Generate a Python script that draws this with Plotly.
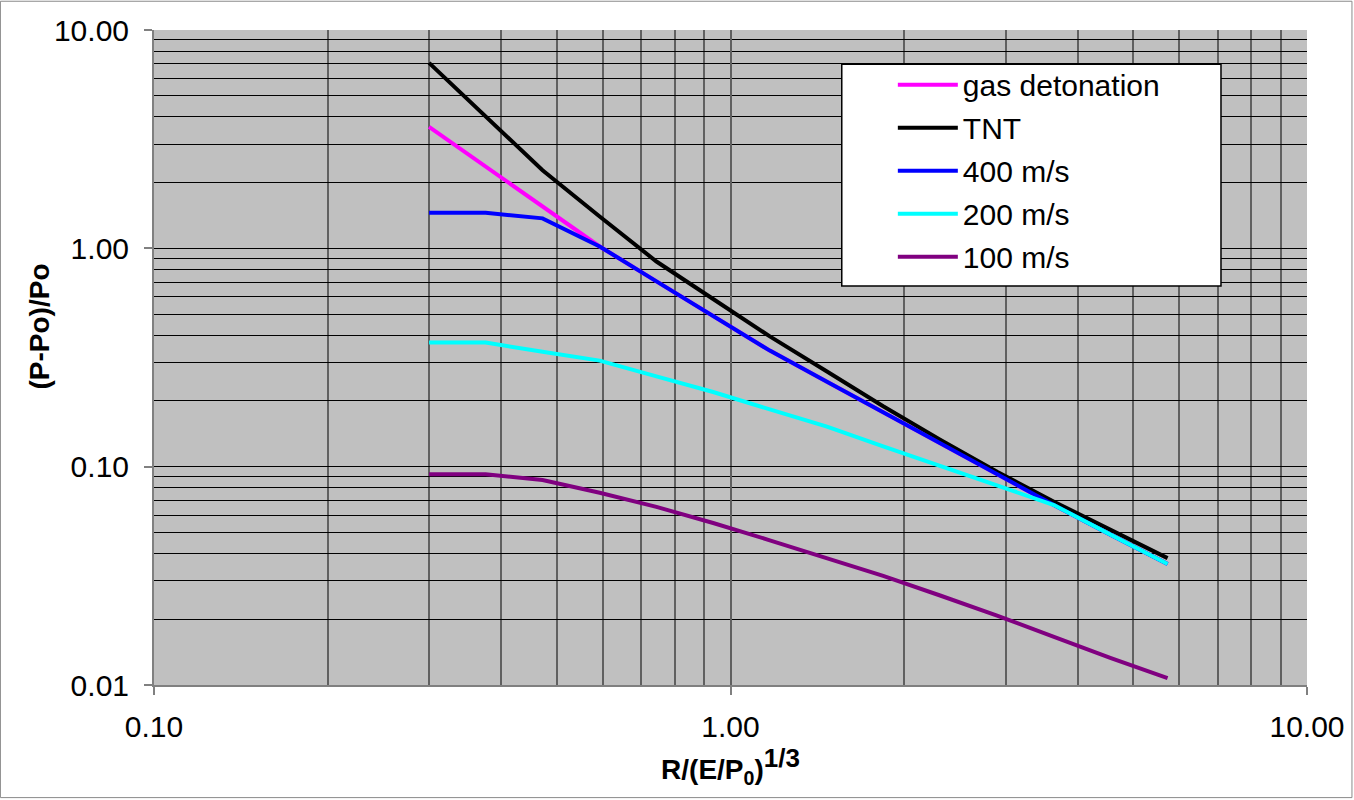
import plotly.graph_objects as go

# Scaled distance R/(E/P0)^(1/3)
x_vals = [0.30, 0.376, 0.472, 0.593, 0.744, 0.933, 1.17, 1.47, 1.84, 2.31, 2.90, 3.64, 4.57, 5.73]

# Overpressure (P-Po)/Po
gas_detonation = [3.60, 2.37, 1.55, 1.02, 0.706, 0.489, 0.340, 0.245, 0.177, 0.128, 0.0923, 0.0667, 0.0487, 0.0358]
tnt = [7.07, 4.02, 2.28, 1.40, 0.870, 0.586, 0.395, 0.273, 0.189, 0.133, 0.0948, 0.0691, 0.0511, 0.0381]
v400 = [1.455, 1.455, 1.372, 1.02, 0.706, 0.489, 0.340, 0.245, 0.177, 0.128, 0.0923, 0.0667, 0.0487, 0.0358]
v200 = [0.370, 0.370, 0.336, 0.306, 0.259, 0.2197, 0.183, 0.1525, 0.124, 0.1006, 0.0816, 0.0667, 0.0487, 0.0358]
v100 = [0.0924, 0.0924, 0.0868, 0.0760, 0.0654, 0.0552, 0.0460, 0.0380, 0.0316, 0.0257, 0.0208, 0.0166, 0.01328, 0.01076]

series_names = ["gas detonation", "TNT", "400 m/s", "200 m/s", "100 m/s"]
series_values = [gas_detonation, tnt, v400, v200, v100]
series_colors = ["#FF00FF", "#000000", "#0000FF", "#00FFFF", "#800080"]

x_tick_vals = [0.1, 1, 10]
x_tick_text = ["0.10", "1.00", "10.00"]
y_tick_vals = [0.01, 0.1, 1, 10]
y_tick_text = ["0.01", "0.10", "1.00", "10.00"]

x_minor = [m * d for d in (0.1, 1) for m in range(2, 10)]
y_minor = [m * d for d in (0.01, 0.1, 1) for m in range(2, 10)]

FONT = "Arial, 'Liberation Sans', sans-serif"

fig = go.Figure()
for i, (name, vals, col) in enumerate(zip(series_names, series_values, series_colors)):
    fig.add_trace(go.Scatter(
        x=x_vals, y=vals, mode="lines", name=name,
        line=dict(color=col, width=4),
        legendgroup=f"g{i}",
    ))

fig.update_layout(
    width=1354, height=800,
    paper_bgcolor="white",
    plot_bgcolor="#C0C0C0",
    margin=dict(l=154, r=47, t=30, b=115, autoexpand=False),
    font=dict(family=FONT, size=30, color="black"),
    showlegend=True,
    legend=dict(
        x=0.6408, y=0.9562, xanchor="left", yanchor="top",
        bgcolor="rgba(0,0,0,0)", borderwidth=0,
        font=dict(family=FONT, size=30, color="black"),
        itemwidth=60, tracegroupgap=1,
    ),
)

fig.update_xaxes(
    type="log", range=[-1, 1],
    tickmode="array", tickvals=x_tick_vals, ticktext=x_tick_text,
    ticks="outside", ticklen=8, tickwidth=1.5, tickcolor="#808080",
    showgrid=True, gridcolor="#606060", gridwidth=2,
    minor=dict(tickmode="array", tickvals=x_minor, showgrid=True,
               gridcolor="#606060", gridwidth=2, ticks=""),
    showline=True, linecolor="#808080", linewidth=2,
    zeroline=False,
    ticklabelstandoff=6,
    tickfont=dict(size=30),
    title=dict(text="R/(E/P<sub>0</sub>)<sup><span style='font-size:26px'>1/3</span></sup>",
               font=dict(family=FONT, size=28, color="black", weight="bold"),
               standoff=4),
    automargin=False,
)
fig.update_yaxes(
    type="log", range=[-2, 1],
    tickmode="array", tickvals=y_tick_vals, ticktext=y_tick_text,
    ticks="outside", ticklen=8, tickwidth=1.5, tickcolor="#808080",
    showgrid=True, gridcolor="#000000", gridwidth=1,
    minor=dict(tickmode="array", tickvals=y_minor, showgrid=True,
               gridcolor="#000000", gridwidth=1, ticks=""),
    showline=True, linecolor="#808080", linewidth=2,
    zeroline=False,
    ticklabelstandoff=9,
    tickfont=dict(size=30),
    automargin=False,
)

# y-axis title placed like the original (left of the tick labels)
fig.add_annotation(
    text="<b>(P-Po)/Po</b>", textangle=-90,
    xref="paper", yref="paper", x=-0.0993, y=0.5466,
    xanchor="center", yanchor="middle", showarrow=False,
    font=dict(family=FONT, size=28, color="black"),
)

# legend frame
fig.add_shape(type="rect", xref="paper", yref="paper",
              x0=0.5965, x1=0.9254, y0=0.6092, y1=0.9478,
              line=dict(color="black", width=1.5), fillcolor="white",
              layer="above")

# outer frame of the chart
fig.add_shape(type="rect", xref="paper", yref="paper",
              x0=-0.1332, x1=1.0390, y0=-0.1719, y1=1.0439,
              line=dict(color="#8a8a8a", width=1), fillcolor="rgba(0,0,0,0)",
              layer="below")

fig.write_html("out.html",
               config={"displayModeBar": False},
               post_script="document.body.style.margin='0';document.body.style.padding='0';")
